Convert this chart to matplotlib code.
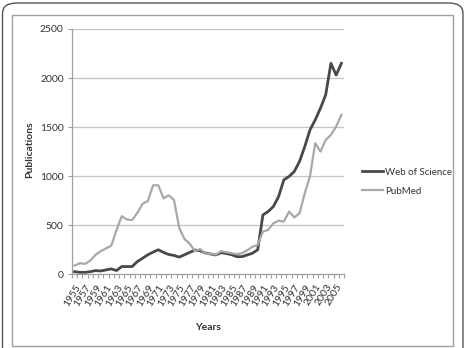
import matplotlib
matplotlib.use("Agg")
import matplotlib.pyplot as plt
from matplotlib.patches import FancyBboxPatch, Rectangle

years = list(range(1955, 2007))
wos = [27, 20, 20, 27, 38, 34, 45, 55, 38, 79, 79, 79, 130, 164, 199, 226, 250, 223, 202, 192,
       175, 199, 223, 247, 240, 216,
       207, 197, 220, 212, 200, 180, 180, 197, 215, 250,
       605, 640, 691, 793, 963, 997, 1048, 1150, 1302, 1472, 1574, 1693, 1829, 2150, 2030, 2150]
pubmed = [89, 113, 106, 140, 199, 236, 264, 291, 450, 592, 558, 553, 627, 719, 747, 907, 907, 774,
          805, 757, 473, 360, 312,
          235, 257, 210, 210, 200, 235, 225, 215, 205, 215, 245, 280, 300,
          435, 452, 520, 547, 537, 639, 580, 622, 826, 1000, 1336, 1251, 1370, 1421, 1506, 1625]
yticks = [0, 500, 1000, 1500, 2000, 2500]
series_names = ["Web of Science", "PubMed"]

plt.rcParams['font.family'] = ['Lato', 'DejaVu Sans']

W, H = 470, 348
fig = plt.figure(figsize=(W / 100, H / 100), dpi=100)
fig.patch.set_facecolor("white")

# outer rounded frame
fig.patches.append(FancyBboxPatch((2.5 / W, -20 / H), (463 - 2.5) / W, (348 - 3 + 20) / H,
                                  boxstyle="round,pad=0,rounding_size=0.03",
                                  transform=fig.transFigure, fill=False,
                                  edgecolor="#555555", linewidth=1.0))
# inner chart frame
fig.patches.append(Rectangle((12 / W, (348 - 345.5) / H), (453 - 12) / W, (345.5 - 15) / H,
                             transform=fig.transFigure, fill=False,
                             edgecolor="#a0a0a0", linewidth=1.0))

left, right, top, bottom = 72, 344, 29, 274.3
ax = fig.add_axes([left / W, (H - bottom) / H, (right - left) / W, (bottom - top) / H])

x = list(range(len(years)))
ax.plot(x, wos, color="#484848", linewidth=2.0, label=series_names[0], solid_joinstyle="round")
ax.plot(x, pubmed, color="#a8a8a8", linewidth=1.6, label=series_names[1], solid_joinstyle="round")

ax.set_xlim(-0.5, len(years) - 0.5)
ax.set_ylim(0, 2500)
ax.set_yticks(yticks)
ax.set_yticklabels([str(v) for v in yticks], fontsize=7.5, color="#333333")
ax.yaxis.grid(True, color="#c4c4c4", linewidth=0.9)
ax.set_axisbelow(True)

lab_idx = [i for i in x if (years[i] - 1955) % 2 == 0]
ax.set_xticks(lab_idx)
ax.set_xticklabels([str(years[i]) for i in lab_idx], fontsize=7.5, rotation=58,
                   ha="right", va="top", rotation_mode="anchor", color="#333333")
ax.set_xticks([i - 0.5 for i in range(len(years) + 1)], minor=True)
ax.tick_params(axis="x", which="major", length=0, pad=6)
ax.tick_params(axis="x", which="minor", length=3, color="#a0a0a0", width=0.8)
ax.tick_params(axis="y", length=3, color="#a0a0a0", width=0.8, pad=3)

for s in ["top", "right"]:
    ax.spines[s].set_visible(False)
for s in ["left", "bottom"]:
    ax.spines[s].set_color("#a0a0a0")
    ax.spines[s].set_linewidth(0.9)

fig.text(30 / W, 1 - 150 / H, "Publications", rotation=90, fontsize=7.5, fontweight="bold",
         ha="center", va="center", color="#333333")
fig.text(208 / W, 1 - 327 / H, "Years", fontsize=7.5, fontweight="bold",
         ha="center", va="center", color="#333333")

leg = fig.legend(loc="upper left", bbox_to_anchor=(358 / W, 1 - 164 / H), frameon=False,
                 fontsize=7, handlelength=2.2, handletextpad=0.2, labelspacing=1.0,
                 borderaxespad=0)
for t in leg.get_texts():
    t.set_color("#333333")

fig.savefig("out.png", dpi=100, facecolor="white")
